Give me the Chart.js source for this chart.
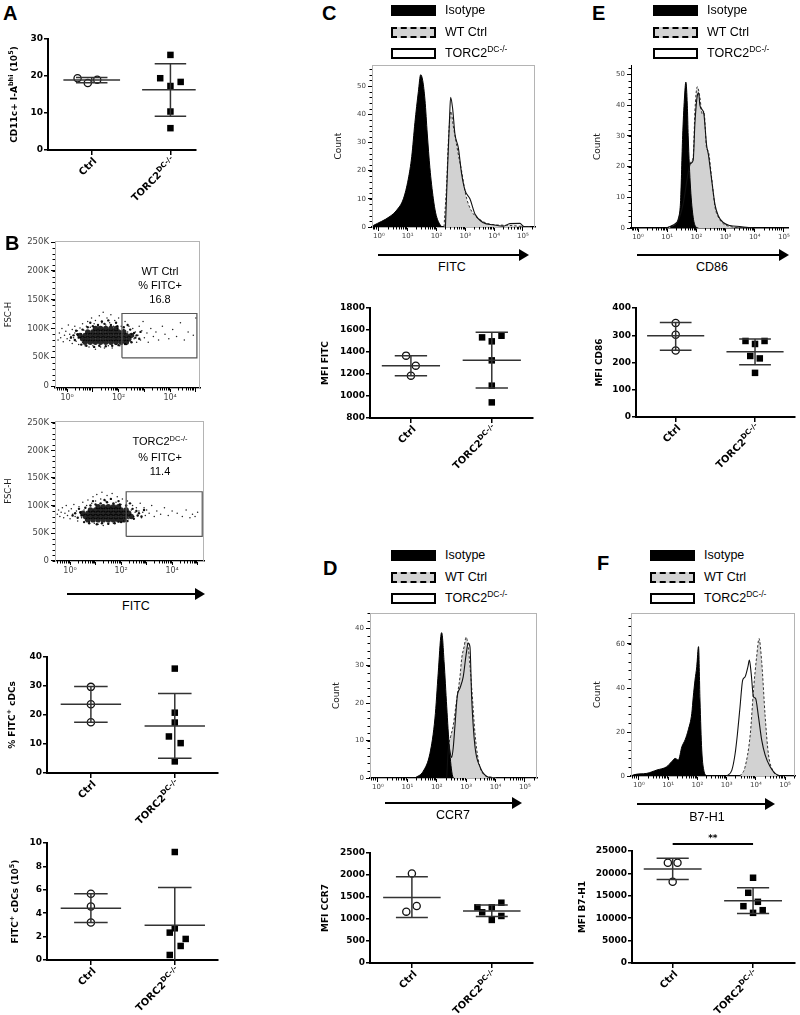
<!DOCTYPE html>
<html><head><meta charset="utf-8">
<script src="https://cdn.jsdelivr.net/npm/chart.js@4.4.1/dist/chart.umd.min.js"></script>
<style>
html,body{margin:0;padding:0;background:#fff;}
body{width:800px;height:1015px;overflow:hidden;position:relative;font-family:"Liberation Sans",Arial,sans-serif;color:#000;}
canvas{position:absolute;}
.t{position:absolute;white-space:nowrap;}
.pl{font-size:20px;line-height:20px;font-weight:bold;}
.bx{position:absolute;width:45px;height:11px;box-sizing:border-box;}
.iso{background:#000;}
.wt{background:#d3d3d3;border:2px dashed #000;}
.ko{background:#fff;border:2px solid #000;}
.lt{font-size:12.5px;line-height:14px;}
.sp{font-size:8.5px;position:relative;top:-5px;}
.ar{position:absolute;height:2px;background:#000;}
.ah{position:absolute;width:0;height:0;border-left:10px solid #000;border-top:6px solid transparent;border-bottom:6px solid transparent;}
.ax{font-size:12.5px;line-height:14px;text-align:center;width:80px;}
.gt{font-size:11px;line-height:14px;text-align:center;width:80px;}
</style></head>
<body>
<script>
// ================= DATA =================
const groups = ['Ctrl', 'TORC2'];
const groupSup = ['', 'DC-/-'];
const histSeries = ['Isotype', 'WT Ctrl', 'TORC2'];
const decadeLabels = ['10\u2070', '10\u00b9', '10\u00b2', '10\u00b3', '10\u2074', '10\u2075'];

// Panel A : CD11c+ I-A bhi (10^5)
const aCtrl = [19.4, 18.1, 19.0];
const aCtrlSpread = [-0.18, -0.05, 0.07];
const aTorc = [25.7, 19.4, 18.4, 17.3, 10.4, 5.9];
const aTorcSpread = [0, -0.13, 0.13, 0, 0, 0];
const aMean = [18.9, 16.3];
const aLow = [18.2, 9.1];
const aHigh = [19.6, 23.3];
const aTicks = [0, 10, 20, 30];

// Panel B : % FITC+ cDCs
const b1Ctrl = [29.7, 23.7, 17.5];
const b1CtrlSpread = [0, 0, 0];
const b1Torc = [36, 20.8, 17.4, 12.6, 10.3, 4.0];
const b1TorcSpread = [0, 0, 0, -0.07, 0.07, 0];
const b1Mean = [23.7, 16.2];
const b1Low = [17.5, 5.1];
const b1High = [29.8, 27.4];
const b1Ticks = [0, 10, 20, 30, 40];

// Panel B : FITC+ cDCs (10^5)
const b2Ctrl = [5.66, 4.57, 3.2];
const b2CtrlSpread = [0, 0, 0];
const b2Torc = [9.23, 2.71, 2.34, 1.8, 1.2, 0.43];
const b2TorcSpread = [0, 0, -0.06, 0.13, 0.07, -0.06];
const b2Mean = [4.43, 2.97];
const b2Low = [3.2, -0.26];
const b2High = [5.66, 6.2];
const b2Ticks = [0, 2, 4, 6, 8, 10];

// Panel C : MFI FITC
const cCtrl = [1367, 1276, 1185];
const cCtrlSpread = [-0.06, 0.06, 0];
const cTorc = [1533, 1548, 1497, 1324, 1094, 942];
const cTorcSpread = [-0.12, 0.12, 0, 0, 0, 0];
const cMean = [1276, 1324];
const cLow = [1185, 1073];
const cHigh = [1367, 1579];
const cTicks = [800, 1000, 1200, 1400, 1600, 1800];

// Panel E : MFI CD86
const eCtrl = [345, 302, 244];
const eCtrlSpread = [0, 0, 0];
const eTorc = [279, 268, 279, 224, 215, 162];
const eTorcSpread = [-0.12, 0, 0.12, -0.06, 0.06, 0];
const eMean = [298, 239];
const eLow = [245, 192];
const eHigh = [347, 286];
const eTicks = [0, 100, 200, 300, 400];

// Panel D : MFI CCR7
const dCtrl = [2033, 1295, 1167];
const dCtrlSpread = [0, 0.06, -0.07];
const dTorc = [1265, 1152, 1265, 1370, 1069, 979];
const dTorcSpread = [-0.18, -0.12, 0, 0.12, 0.12, 0];
const dMean = [1491, 1182];
const dLow = [1032, 1054];
const dHigh = [1958, 1318];
const dTicks = [0, 500, 1000, 1500, 2000, 2500];

// Panel F : MFI B7-H1
const fCtrl = [22388, 22388, 18134];
const fCtrlSpread = [-0.06, 0.06, 0];
const fTorc = [19030, 15672, 13657, 12687, 11791, 11194];
const fTorcSpread = [0, -0.06, 0.06, -0.12, 0.12, 0];
const fMean = [20970, 13881];
const fLow = [18657, 11045];
const fHigh = [23358, 16791];
const fTicks = [0, 5000, 10000, 15000, 20000, 25000];

// Histograms (x = log10 fluorescence, y = count)
const cIsoX = [-0.2,0.39,0.62,0.85,1.02,1.14,1.25,1.37,1.45,1.52,1.6,1.68,1.77,1.89,1.97,2.06,2.18];
const cIsoY = [0.5,3.8,6,10,17,25,37,48,54,52,45,33,21,10,5,2,0];
const cWtX = [2.26,2.35,2.42,2.50,2.58,2.70,2.79,2.87,2.95,3.05,3.22,3.51,3.86,4.44,5.01,5.25];
const cWtY = [0,15,32,41,36,29,24,20,15,10,5.6,2.6,1,0.6,0.2,0];
const cKoX = [2.31,2.38,2.45,2.49,2.56,2.64,2.76,2.87,2.99,3.16,3.34,3.63,3.97,4.32,4.55,4.90,5.01,5.19];
const cKoY = [0,20,38,46,42,33,28,19,13,10,4.5,1.5,0.8,0.3,1.2,1.3,0.3,0];
const cCountTicks = [0,10,20,30,40,50];

const eIsoX = [1.10,1.27,1.38,1.46,1.53,1.59,1.64,1.69,1.72,1.80,1.89,1.99,2.07];
const eIsoY = [0.5,1,3,9,30,42,47.5,40,30,13,3.5,0.3,0];
const eWtX = [0.98,1.21,1.38,1.55,1.72,1.80,1.89,1.95,2.03,2.12,2.20,2.26,2.35,2.41,2.52,2.64,2.75,2.92,3.15,3.61,3.95];
const eWtY = [0,1,2.5,8,18,21.5,23,38,46,42.6,37,38,26,25,16.6,6.8,3.6,1.4,0.5,0.1,0];
const eKoX = [0.98,1.21,1.38,1.55,1.72,1.80,1.89,1.95,2.03,2.08,2.12,2.20,2.26,2.35,2.41,2.52,2.64,2.75,2.92,3.15,3.49,3.95];
const eKoY = [0,1,2.5,8,18,21,22,34,43,44,40,38.5,37,27,24,16,7.5,4,1.8,0.8,0.5,0];
const eCountTicks = [0,10,20,30,40,50];

const dIsoX = [1.26,1.54,1.77,1.94,2.05,2.15,2.17,2.25,2.34,2.43,2.54,2.59];
const dIsoY = [0,1.8,6.6,16,28,38.5,38.8,31,19,8,0.5,0];
const dWtX = [2.32,2.39,2.47,2.56,2.68,2.79,2.85,2.93,3.00,3.07,3.19,3.30,3.41,3.59,3.81,4.04];
const dWtY = [0,8,11,14,21,27,32,35,37.6,35,24,12,5,1,0.3,0];
const dKoX = [2.34,2.41,2.45,2.51,2.56,2.62,2.70,2.79,2.90,3.00,3.07,3.13,3.19,3.30,3.47,3.70,3.93];
const dKoY = [0,9,7,5.5,8,14,22,24,27,33,36,35,21,8.4,3,0.4,0];
const dCountTicks = [0,10,20,30,40];

const fIsoX = [-0.25,-0.19,0.27,0.61,0.95,1.12,1.24,1.35,1.47,1.58,1.69,1.81,1.86,1.92,1.98,2.04,2.09,2.15,2.23,2.32];
const fIsoY = [0,0.5,1.2,2.7,4.2,6.5,8,7.3,13.3,16.4,21,28.5,36,43.6,49.7,58.8,34.5,11.8,2,0];
const fWtX = [3.46,3.63,3.81,3.92,4.03,4.11,4.20,4.32,4.43,4.60,4.78];
const fWtY = [0,4,19,39,54.5,62.5,52,27,10,2,0];
const fKoX = [3.01,3.18,3.29,3.37,3.46,3.55,3.63,3.73,3.78,3.84,3.92,3.99,4.09,4.20,4.32,4.49,4.66,4.83];
const fKoY = [0,2.7,10,19,31.5,43.6,45,49.7,52.7,46.7,36,35.3,27,16.4,9.5,4.2,1.2,0];
const fCountTicks = [0,20,40,60];

// Flow dot plots (x = log10 FITC, y = FSC-H in K)
const fscTicks = [0,50,100,150,200,250];
const bTopGate = {x0:2.13, x1:5.04, y0:49, y1:126};
const bBotGate = {x0:2.2, x1:5.18, y0:44, y1:125};
const bTopCore = [[0.7,76],[0.9,76],[1.1,76],[1.3,76],[1.5,76],[1.7,76],[1.9,76],[2.1,76],[2.3,76],
[0.6,82],[0.8,82],[1.0,82],[1.2,82],[1.4,82],[1.6,82],[1.8,82],[2.0,82],[2.2,82],[2.4,82],
[0.5,88],[0.7,88],[0.9,88],[1.1,88],[1.3,88],[1.5,88],[1.7,88],[1.9,88],[2.1,88],[2.3,88],[2.5,88],
[0.8,94],[1.0,94],[1.2,94],[1.4,94],[1.6,94],[1.8,94],[2.0,94],[2.2,94],
[1.1,100],[1.3,100],[1.5,100],[1.7,100],[1.9,100]];
const bTopMid = [[0.3,80],[0.4,90],[0.45,84],[0.35,96],[0.6,98],[0.55,72],[0.8,102],[0.75,70],[1.0,104],[1.05,68],[1.2,106],[1.25,70],[1.45,108],[1.5,69],[1.7,106],[1.75,70],[1.95,104],[2.0,71],[2.2,102],[2.25,73],[2.45,98],[2.5,76],[2.6,92],[2.65,84],[2.7,88],[2.8,82],[2.85,94],[0.9,110],[1.35,112],[1.6,114],[1.9,110],[2.35,106],[0.25,88],[0.15,84]];
const bTopEvents = [[-0.35,80],[-0.3,92],[-0.25,84],[-0.2,100],[-0.15,77],[-0.1,88],[-0.05,95],[0,82],[0.05,106],[0.1,79],[0.1,90],[0.15,86],[0.2,98],[0.2,74],[0.25,84],[0.3,92],[0.3,104],[0.35,78],[0.4,88],[0.4,96],[0.45,72],[0.5,84],[0.5,101],[0.55,91],[0.6,76],[0.6,108],[0.65,97],[0.7,70],
[0.75,104],[0.8,112],[0.85,68],[0.9,102],[0.95,118],[1.0,70],[1.05,108],[1.1,64],[1.1,114],[1.2,104],[1.25,122],[1.3,68],[1.35,110],[1.4,128],[1.45,66],[1.5,106],[1.55,118],[1.6,70],[1.65,110],[1.7,124],[1.75,66],[1.8,104],[1.85,114],[1.9,72],[1.95,100],[2.0,118],[2.05,70],[2.1,104],[2.15,76],[2.2,98],[2.25,112],[2.3,72],[2.35,94],[2.4,104],[2.45,78],[2.5,90],[2.55,100],[2.6,82],[2.65,94],[2.7,76],
[2.75,88],[2.8,104],[2.85,80],[2.9,96],[2.95,112],[3.0,84],[3.1,92],[3.15,76],[3.25,100],[3.35,86],[3.45,94],[3.55,80],[3.7,104],[3.8,90],[3.95,82],[4.1,98],[4.25,86],[4.4,110],[4.55,80],[4.7,94],[4.9,88],[5.0,118]];
const bBotCore = [[0.7,74],[0.9,74],[1.1,74],[1.3,74],[1.5,74],[1.7,74],[1.9,74],[2.1,74],
[0.6,80],[0.8,80],[1.0,80],[1.2,80],[1.4,80],[1.6,80],[1.8,80],[2.0,80],[2.2,80],[2.4,80],
[0.5,86],[0.7,86],[0.9,86],[1.1,86],[1.3,86],[1.5,86],[1.7,86],[1.9,86],[2.1,86],[2.3,86],
[0.8,92],[1.0,92],[1.2,92],[1.4,92],[1.6,92],[1.8,92],[2.0,92],[2.2,92],
[1.1,98],[1.3,98],[1.5,98],[1.7,98],[1.9,98]];
const bBotMid = [[0.3,78],[0.4,88],[0.45,82],[0.35,94],[0.6,96],[0.55,70],[0.8,100],[0.75,68],[1.0,102],[1.05,66],[1.2,104],[1.25,68],[1.45,106],[1.5,67],[1.7,104],[1.75,68],[1.95,102],[2.0,70],[2.2,100],[2.25,72],[2.45,94],[2.5,76],[2.6,90],[2.65,82],[2.7,86],[2.8,80],[2.9,92],[0.9,108],[1.35,110],[1.6,112],[1.9,108],[2.35,104],[0.2,86],[0.1,82]];
const bBotEvents = [[-0.5,84],[-0.45,92],[-0.4,80],[-0.35,88],[-0.3,96],[-0.25,78],[-0.2,86],[-0.15,100],[-0.1,82],[-0.05,90],[0,76],[0.05,94],[0.1,84],[0.15,102],[0.2,80],[0.25,90],[0.3,72],[0.35,98],[0.4,86],[0.45,78],[0.5,106],[0.55,92],[0.6,74],[0.65,100],
[0.7,110],[0.75,70],[0.85,104],[0.9,116],[0.95,68],[1.0,108],[1.05,120],[1.1,66],[1.2,112],[1.25,124],[1.3,64],[1.4,108],[1.45,118],[1.5,66],[1.6,112],[1.65,122],[1.7,68],[1.8,106],[1.85,116],[1.9,70],[2.0,102],[2.05,112],[2.1,72],[2.2,98],[2.25,108],[2.3,76],[2.4,92],[2.45,100],[2.5,80],[2.55,88],[2.6,96],[2.65,82],[2.7,90],[2.75,104],[2.8,78],
[2.85,88],[2.9,96],[2.95,82],[3.0,92],[3.1,86],[3.2,100],[3.3,80],[3.4,90],[3.55,84],[3.7,96],[3.85,82],[4.0,90],[4.2,86],[4.4,80],[4.55,92],[4.7,78],[4.8,84],[4.9,80],[5.0,88]];

// ================= LAYOUT =================
const LAY = {
  A:  {x0:48, x1:200, y0:39, y1:150, c1:93, c2:174, titleX:17},
  B1: {x0:47, x1:222, y0:657, y1:773, c1:92, c2:178, titleX:15},
  B2: {x0:47, x1:222, y0:843, y1:960, c1:92, c2:178, titleX:18},
  Cd: {x0:370, x1:537, y0:308, y1:418, c1:412, c2:495, titleX:328},
  Ed: {x0:636, x1:800, y0:308, y1:417, c1:677, c2:759, titleX:602},
  Dd: {x0:370, x1:537, y0:853, y1:963, c1:413, c2:495, titleX:328},
  Fd: {x0:632, x1:800, y0:851, y1:963, c1:674, c2:757, titleX:585, padTop:26},
  Ch: {x0:372, x1:535, y0:65, y1:227, xMin:-0.24, xMax:5.42, yMax:57.4, yMinor:2, frame:true},
  Eh: {x0:631, x1:788, y0:65, y1:228, xMin:-0.24, xMax:5.14, yMax:53, yMinor:2, frame:false},
  Dh: {x0:370, x1:537, y0:613, y1:778, xMin:-0.27, xMax:5.41, yMax:44, yMinor:2, frame:true},
  Fh: {x0:631, x1:795, y0:613, y1:776, xMin:-0.27, xMax:5.34, yMax:74, yMinor:4, frame:true},
  Bt: {x0:55, x1:200, y0:240, y1:388, xMin:-0.47, xMax:5.16, yMin:-3.4, yMax:251.7, yMinor:10, frame:true},
  Bb: {x0:55, x1:204, y0:420, y1:561, xMin:-0.59, xMax:5.25, yMin:-0.5, yMax:253, yMinor:10, frame:true}
};

// ================= HELPERS =================
const FAM = 'DejaVu Sans';
function zip(xs, ys){ return xs.map((x,i)=>({x:x, y:ys[i]})); }
function pairs(arr){ return arr.map(p=>({x:p[0], y:p[1]})); }
function makeCanvas(l,t,w,h){
  const c=document.createElement('canvas'); c.width=w; c.height=h;
  c.style.left=l+'px'; c.style.top=t+'px'; c.style.width=w+'px'; c.style.height=h+'px';
  document.body.appendChild(c); return c;
}
function partsWidth(ctx, parts, size, weight){
  let w=0; for(const [t,s] of parts){ ctx.font=`${weight} ${s?size*0.72:size}px "${FAM}"`; w+=ctx.measureText(t).width; } return w;
}
function drawParts(ctx, parts, x, y, size, weight){
  for(const [t,s] of parts){ ctx.font=`${weight} ${s?size*0.72:size}px "${FAM}"`; ctx.fillText(t, x, s? y-size*0.4 : y); x+=ctx.measureText(t).width; }
}
function txt(x,y,html,cls){ const d=document.createElement('div'); d.className='t '+cls; d.style.left=x+'px'; d.style.top=y+'px'; d.innerHTML=html; document.body.appendChild(d); }
function arrow(x1,x2,y){
  const l=document.createElement('div'); l.className='ar'; l.style.left=x1+'px'; l.style.top=(y-1)+'px'; l.style.width=(x2-x1-8)+'px'; document.body.appendChild(l);
  const h=document.createElement('div'); h.className='ah'; h.style.left=(x2-10)+'px'; h.style.top=(y-6)+'px'; document.body.appendChild(h);
}
function legend(bx, by, tx){
  const cls=['iso','wt','ko'];
  histSeries.forEach((s,i)=>{
    const b=document.createElement('div'); b.className='bx '+cls[i]; b.style.left=bx+'px'; b.style.top=(by+i*21.5)+'px'; document.body.appendChild(b);
    const label = i===2 ? 'TORC2<span class="sp">DC-/-</span>' : s;
    txt(tx, by+i*21.5-2, label, 'lt');
  });
}

function errorBars(g, mean, lo, hi){
  const seg = p => ({type:'line', data:p, borderColor:'#333', borderWidth:1.5, pointRadius:0, fill:false, order:0});
  return [seg([{x:g-0.36,y:mean},{x:g+0.36,y:mean}]),
          seg([{x:g-0.2,y:lo},{x:g+0.2,y:lo}]),
          seg([{x:g-0.2,y:hi},{x:g+0.2,y:hi}]),
          seg([{x:g,y:lo},{x:g,y:hi}])];
}

function dotPlot(L, D){
  const padTop = L.padTop || 14;
  const left = Math.max(0, L.x0-60), top = L.y0-padTop, right = Math.min(800, L.x1+1), bottom = L.y1+56;
  const cv = makeCanvas(left, top, right-left, bottom-top);
  const ppu = L.c2-L.c1;
  const xmin = 1-(L.c1-L.x0)/ppu, xmax = 2+(L.x1-L.c2)/ppu;
  const ds = [];
  [0,1].forEach(i=>ds.push(...errorBars(i+1, D.mean[i], D.lo[i], D.hi[i])));
  ds.push({type:'scatter', data:D.ctrl.map((v,i)=>({x:1+D.ctrlSpread[i], y:v})), pointStyle:'circle', pointRadius:3.6,
           pointBackgroundColor:'#fff', pointBorderColor:'#111', pointBorderWidth:1.3, order:1, clip:false});
  ds.push({type:'scatter', data:D.torc.map((v,i)=>({x:2+D.torcSpread[i], y:v})), pointStyle:'rect', pointRadius:4.6,
           pointBackgroundColor:'#000', pointBorderColor:'#000', pointBorderWidth:0, order:1, clip:false});
  const deco = {id:'dotDeco', afterDraw(chart){
    const ctx=chart.ctx, a=chart.chartArea, xs=chart.scales.x;
    ctx.save(); ctx.fillStyle='#000'; ctx.strokeStyle='#000'; ctx.textBaseline='alphabetic'; ctx.textAlign='left';
    ctx.save(); ctx.translate(L.titleX-left, (a.top+a.bottom)/2); ctx.rotate(-Math.PI/2);
    const tw=partsWidth(ctx, D.title, 9, 'bold'); drawParts(ctx, D.title, -tw/2, 0, 9, 'bold'); ctx.restore();
    groups.forEach((g,i)=>{
      const parts=[[g,0]]; if(groupSup[i]) parts.push([groupSup[i],1]);
      const px=xs.getPixelForValue(i+1);
      ctx.save(); ctx.translate(px+3, a.bottom+9); ctx.rotate(-Math.PI/4);
      const w=partsWidth(ctx, parts, 10, 'bold'); drawParts(ctx, parts, -w, 3.5, 10, 'bold'); ctx.restore();
    });
    if(D.sig){
      const p1=xs.getPixelForValue(1), p2=xs.getPixelForValue(2), y=a.top-7;
      ctx.lineWidth=2; ctx.beginPath(); ctx.moveTo(p1,y); ctx.lineTo(p2,y); ctx.stroke();
      ctx.font='bold 9px "DejaVu Sans"'; ctx.textAlign='center'; ctx.fillText(D.sig,(p1+p2)/2,y-3);
    }
    ctx.restore();
  }};
  new Chart(cv, {type:'scatter', data:{datasets:ds}, plugins:[deco], options:{
    responsive:false, animation:false, events:[],
    layout:{padding:{left:0, top:padTop, right:right-L.x1, bottom:0}},
    plugins:{legend:{display:false}, tooltip:{enabled:false}},
    scales:{
      x:{type:'linear', min:xmin, max:xmax,
         afterBuildTicks:s=>{s.ticks=[{value:1},{value:2}];}, afterFit:s=>{s.height=bottom-L.y1;},
         grid:{display:true, drawOnChartArea:false, drawTicks:true, tickLength:5, color:'#000', lineWidth:1.5},
         border:{display:true, color:'#000', width:2}, ticks:{display:false}},
      y:{type:'linear', min:D.ticks[0], max:D.ticks[D.ticks.length-1],
         afterBuildTicks:s=>{s.ticks=D.ticks.map(v=>({value:v}));}, afterFit:s=>{s.width=L.x0-left;},
         grid:{display:true, drawOnChartArea:false, drawTicks:true, tickLength:4, color:'#000', lineWidth:1.5},
         border:{display:true, color:'#000', width:2},
         ticks:{color:'#000', padding:1, font:{family:FAM, weight:'bold', size:9}, callback:v=>String(v)}}
    }
  }});
}

function flowPlot(L, datasets, o){
  const left = Math.max(0, L.x0-55), top = L.y0-6, right = Math.min(800, L.x1+4), bottom = L.y1+20;
  const cv = makeCanvas(left, top, right-left, bottom-top);
  const deco = {id:'flowDeco',
    beforeDatasetsDraw(chart){
      if(!L.frame) return;
      const a=chart.chartArea, ctx=chart.ctx;
      ctx.save(); ctx.strokeStyle='#b4b4b4'; ctx.lineWidth=1;
      ctx.strokeRect(Math.round(a.left)+0.5, Math.round(a.top)+0.5, Math.round(a.right-a.left)-1, Math.round(a.bottom-a.top)); ctx.restore();
    },
    afterDraw(chart){
      const ctx=chart.ctx, a=chart.chartArea, xs=chart.scales.x, ys=chart.scales.y;
      ctx.save(); ctx.strokeStyle='#000'; ctx.lineWidth=1;
      for(let d=-1; d<=5; d++) for(let k=2;k<=9;k++){
        const v=d+Math.log10(k); if(v<xs.min||v>xs.max) continue;
        const p=Math.round(xs.getPixelForValue(v))+0.5;
        ctx.beginPath(); ctx.moveTo(p,a.bottom); ctx.lineTo(p,a.bottom+2.5); ctx.stroke();
      }
      for(let v=0; v<=ys.max; v+=L.yMinor){
        const p=Math.round(ys.getPixelForValue(v))+0.5;
        ctx.beginPath(); ctx.moveTo(a.left,p); ctx.lineTo(a.left-2.5,p); ctx.stroke();
      }
      ctx.fillStyle='#222'; ctx.font=`${o.titleSize}px "${FAM}"`; ctx.textAlign='center'; ctx.textBaseline='middle';
      ctx.translate(a.left-o.titleOff, (a.top+a.bottom)/2); ctx.rotate(-Math.PI/2); ctx.fillText(o.title,0,0);
      ctx.restore();
    }};
  new Chart(cv, {type:'scatter', data:{datasets:datasets}, plugins:[deco], options:{
    responsive:false, animation:false, events:[],
    layout:{padding:{left:0, top:L.y0-top, right:right-L.x1, bottom:0}},
    plugins:{legend:{display:false}, tooltip:{enabled:false}},
    scales:{
      x:{type:'linear', min:L.xMin, max:L.xMax,
         afterBuildTicks:s=>{s.ticks=[0,1,2,3,4,5].map(v=>({value:v}));}, afterFit:s=>{s.height=bottom-L.y1;},
         grid:{display:true, drawOnChartArea:false, drawTicks:true, tickLength:4, color:'#000', lineWidth:1},
         border:{display:true, color:'#000', width:1.5},
         ticks:{autoSkip:false, maxRotation:0, padding:1, color:'#444', font:{family:FAM, size:o.xFont}, callback:o.xLabel}},
      y:{type:'linear', min:(L.yMin||0), max:L.yMax,
         afterBuildTicks:s=>{s.ticks=o.yTicks.map(v=>({value:v}));}, afterFit:s=>{s.width=L.x0-left;},
         grid:{display:true, drawOnChartArea:false, drawTicks:true, tickLength:4, color:'#000', lineWidth:1},
         border:{display:true, color:'#000', width:1},
         ticks:{padding:2, color:'#444', font:{family:FAM, size:o.yFont}, callback:o.yLabel}}
    }
  }});
}

function histDatasets(isoX, isoY, wtX, wtY, koX, koY){
  return [
    {type:'line', label:histSeries[2], data:zip(koX,koY), borderColor:'#111', borderWidth:1.1, fill:false, pointRadius:0, cubicInterpolationMode:'monotone', order:0},
    {type:'line', label:histSeries[0], data:zip(isoX,isoY), borderColor:'#000', backgroundColor:'#000', borderWidth:1, fill:'origin', pointRadius:0, cubicInterpolationMode:'monotone', order:1},
    {type:'line', label:histSeries[1], data:zip(wtX,wtY), borderColor:'#333', backgroundColor:'#d2d2d2', borderWidth:1, borderDash:[2.5,2], fill:'origin', pointRadius:0, cubicInterpolationMode:'monotone', order:2}
  ];
}
function histOpts(ticks){
  return {title:'Count', titleSize:9, titleOff:33, xFont:7, yFont:7, yTicks:ticks,
          xLabel:v=>decadeLabels[v]||'', yLabel:v=>String(v)};
}
function gateData(g){ return [{x:g.x0,y:g.y0},{x:g.x1,y:g.y0},{x:g.x1,y:g.y1},{x:g.x0,y:g.y1},{x:g.x0,y:g.y0}]; }
function flowDatasets(core, mid, events, gate){
  return [
    {type:'line', data:gateData(gate), borderColor:'#555', borderWidth:1.2, pointRadius:0, fill:false, order:0},
    {type:'scatter', data:pairs(core), pointRadius:2.7, pointBackgroundColor:'rgba(0,0,0,0.85)', pointBorderWidth:0, order:1},
    {type:'scatter', data:pairs(mid), pointRadius:1.2, pointBackgroundColor:'#111', pointBorderWidth:0, order:2},
    {type:'scatter', data:pairs(events), pointRadius:0.75, pointBackgroundColor:'#222', pointBorderWidth:0, order:3}
  ];
}
const fscOpts = {title:'FSC-H', titleSize:8.5, titleOff:46, xFont:8, yFont:8.5, yTicks:fscTicks,
                 xLabel:v=>(v%2===0 ? decadeLabels[v] : ''), yLabel:v=>(v===0?'0':v+'K')};

// ================= BUILD =================
dotPlot(LAY.A, {ctrl:aCtrl, ctrlSpread:aCtrlSpread, torc:aTorc, torcSpread:aTorcSpread, mean:aMean, lo:aLow, hi:aHigh, ticks:aTicks,
  title:[['CD11c+ I-A',0],['bhi',1],[' (10',0],['5',1],[')',0]]});
dotPlot(LAY.B1, {ctrl:b1Ctrl, ctrlSpread:b1CtrlSpread, torc:b1Torc, torcSpread:b1TorcSpread, mean:b1Mean, lo:b1Low, hi:b1High, ticks:b1Ticks,
  title:[['% FITC',0],['+',1],[' cDCs',0]]});
dotPlot(LAY.B2, {ctrl:b2Ctrl, ctrlSpread:b2CtrlSpread, torc:b2Torc, torcSpread:b2TorcSpread, mean:b2Mean, lo:b2Low, hi:b2High, ticks:b2Ticks,
  title:[['FITC',0],['+',1],[' cDCs (10',0],['5',1],[')',0]]});
dotPlot(LAY.Cd, {ctrl:cCtrl, ctrlSpread:cCtrlSpread, torc:cTorc, torcSpread:cTorcSpread, mean:cMean, lo:cLow, hi:cHigh, ticks:cTicks,
  title:[['MFI FITC',0]]});
dotPlot(LAY.Ed, {ctrl:eCtrl, ctrlSpread:eCtrlSpread, torc:eTorc, torcSpread:eTorcSpread, mean:eMean, lo:eLow, hi:eHigh, ticks:eTicks,
  title:[['MFI CD86',0]]});
dotPlot(LAY.Dd, {ctrl:dCtrl, ctrlSpread:dCtrlSpread, torc:dTorc, torcSpread:dTorcSpread, mean:dMean, lo:dLow, hi:dHigh, ticks:dTicks,
  title:[['MFI CCR7',0]]});
dotPlot(LAY.Fd, {ctrl:fCtrl, ctrlSpread:fCtrlSpread, torc:fTorc, torcSpread:fTorcSpread, mean:fMean, lo:fLow, hi:fHigh, ticks:fTicks,
  title:[['MFI B7-H1',0]], sig:'**'});

flowPlot(LAY.Ch, histDatasets(cIsoX,cIsoY,cWtX,cWtY,cKoX,cKoY), histOpts(cCountTicks));
flowPlot(LAY.Eh, histDatasets(eIsoX,eIsoY,eWtX,eWtY,eKoX,eKoY), histOpts(eCountTicks));
flowPlot(LAY.Dh, histDatasets(dIsoX,dIsoY,dWtX,dWtY,dKoX,dKoY), histOpts(dCountTicks));
flowPlot(LAY.Fh, histDatasets(fIsoX,fIsoY,fWtX,fWtY,fKoX,fKoY), histOpts(fCountTicks));
flowPlot(LAY.Bt, flowDatasets(bTopCore, bTopMid, bTopEvents, bTopGate), fscOpts);
flowPlot(LAY.Bb, flowDatasets(bBotCore, bBotMid, bBotEvents, bBotGate), fscOpts);

// Panel letters
txt(3,3,'A','pl'); txt(5,233,'B','pl'); txt(322,3,'C','pl'); txt(592,3,'E','pl'); txt(323,558,'D','pl'); txt(597,553,'F','pl');
// Legends
legend(391,5,445); legend(653,5,707); legend(391,550,445); legend(650,550,704);
// Axis arrows and labels
arrow(67,205,594); txt(96,599,'FITC','ax');
arrow(378,529,255); txt(412,260,'FITC','ax');
arrow(637,789,255); txt(672,260,'CD86','ax');
arrow(385,522,803); txt(413,808,'CCR7','ax');
arrow(637,775,804); txt(667,810,'B7-H1','ax');
// Gate annotations
txt(120,264,'WT Ctrl<br>% FITC+<br>16.8','gt');
txt(120,434,'TORC2<span class="sp" style="font-size:7.5px;top:-4px">DC-/-</span><br>% FITC+<br>11.4','gt');
</script>
</body></html>
